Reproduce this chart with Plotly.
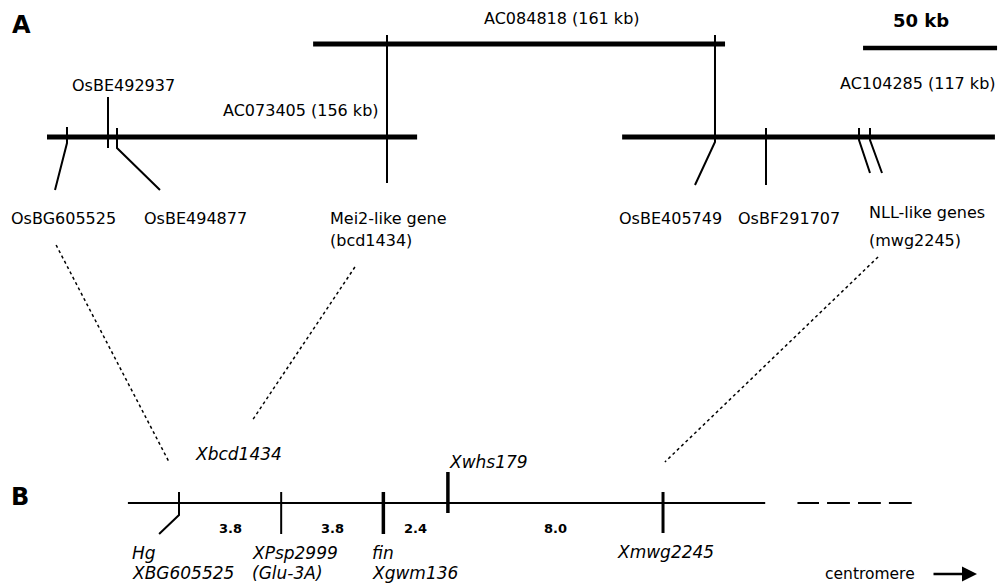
import plotly.graph_objects as go
import numpy as np

# ---------------- data ----------------
# Panel A: rice BAC/PAC contig (physical positions, kb, along the drawing)
clone_names = ["AC073405 (156 kb)", "AC084818 (161 kb)", "AC104285 (117 kb)"]
clone_start_kb = [0.0, 99.3, 214.6]
clone_end_kb = [138.1, 253.0, 353.7]
clone_row = [137, 44, 137]
scale_bar_kb = [304.5, 354.5]          # 50 kb reference bar
scale_bar_label = "50 kb"

# rice genes / ESTs on the contig: position (kb), tick top row, tick bottom row,
# leader end position (kb), leader end row
gene_names = ["OsBG605525", "OsBE492937", "OsBE494877", "Mei2-like gene",
              "OsBE405749", "OsBF291707", "NLL-like genes", "NLL-like genes"]
gene_kb = [7.46, 22.76, 26.12, 126.87, 249.25, 268.28, 302.99, 307.09]
gene_top = [127, 97, 128, 35, 35, 128, 128, 128]
gene_tick_bottom = [143, 148, 148, 183, 142, 185, 140, 140]
gene_leader_kb = [2.99, 22.76, 42.16, 126.87, 241.79, 268.28, 307.09, 311.57]
gene_leader_row = [190, 148, 190, 183, 185, 185, 173, 173]

# Panel B: wheat genetic map (intervals in cM)
loci = ["Hg / XBG605525", "XPsp2999 (Glu-3A)", "fin / Xgwm136", "Xwhs179", "Xmwg2245"]
intervals_cM = [3.8, 3.8, 2.4, 8.0]
interval_labels = ["3.8", "3.8", "2.4", "8.0"]
locus_top = [492, 492, 492, 472, 492]
locus_bottom = [515, 534, 534, 513, 533]
locus_width = [2, 2, 3.5, 3.5, 3]
map_extent_cM = [-1.9, 21.8]
dash_segments_cM = [[23.0, 23.8], [24.1, 24.95], [25.25, 26.1], [26.4, 27.25]]
hg_leader_cM = -0.74

# rice -> wheat correspondences (dotted connectors)
conn_from_kb = [3.4, 114.9, 310.1]
conn_from_row = [245, 267, 257]
conn_to_cM = [-0.37, 2.71, 18.07]
conn_to_row = [462, 421, 462]

# ---------------- frame / style ----------------
W, H = 999, 585
A_ORIGIN_PX, PX_PER_KB = 47.0, 2.68
B_ORIGIN_PX, PX_PER_CM = 179.0, 26.89
FONT = "DejaVu Sans"


def cm_to_kb(c):
    return (B_ORIGIN_PX + c * PX_PER_CM - A_ORIGIN_PX) / PX_PER_KB


fig = go.Figure()


def line(xs, ys, width, axis="x", dash=None):
    fig.add_trace(go.Scatter(
        x=xs, y=ys, mode="lines", xaxis=axis, yaxis="y",
        line=dict(color="black", width=width, dash=dash),
        hoverinfo="skip", showlegend=False))


# clones
for s, e, r in zip(clone_start_kb, clone_end_kb, clone_row):
    line([s, e], [r, r], 5)
# scale bar
line(scale_bar_kb, [48, 48], 4.5)
# genes
for kb, t, b, lk, lr in zip(gene_kb, gene_top, gene_tick_bottom, gene_leader_kb, gene_leader_row):
    line([kb, kb, lk], [t, b, lr], 2)

# genetic map
line(map_extent_cM, [503, 503], 2, axis="x2")
for seg in dash_segments_cM:
    line(seg, [503, 503], 2, axis="x2")
pos_cM = np.concatenate([[0.0], np.cumsum(intervals_cM)])
for i, (p, t, b, w) in enumerate(zip(pos_cM, locus_top, locus_bottom, locus_width)):
    if i == 0:
        line([p, p, hg_leader_cM], [t, b, 534], w, axis="x2")
    else:
        line([p, p], [t, b], w, axis="x2")

# connectors
for fk, fr, tc, tr in zip(conn_from_kb, conn_from_row, conn_to_cM, conn_to_row):
    line([fk, cm_to_kb(tc)], [fr, tr], 1.5, dash="dot")

ann = []


def text(t, x, y, xref="x", xanchor="left", xshift=0, size=16, bold=False, italic=False):
    if bold:
        t = "<b>" + t + "</b>"
    if italic:
        t = "<i>" + t + "</i>"
    ann.append(dict(text=t, x=x, y=y, xref=xref, yref="y", xanchor=xanchor,
                    yanchor="middle", xshift=xshift, showarrow=False,
                    font=dict(family=FONT, size=size, color="black")))


# panel letters
text("A", 10, 25, xref="paper", size=24, bold=True)
text("B", 9, 497, xref="paper", size=24, bold=True)

# clone labels
text(clone_names[1], clone_start_kb[1], 18, xshift=169)
text(clone_names[0], gene_kb[3], 110, xanchor="right", xshift=-6)
text(clone_names[2], clone_end_kb[2], 83, xanchor="right", xshift=3)
text(scale_bar_label, sum(scale_bar_kb) / 2, 20, xanchor="center", xshift=-9, size=18, bold=True)

# gene labels
text(gene_names[0], gene_leader_kb[0], 218, xanchor="center", xshift=8)
text(gene_names[1], gene_kb[1], 85, xanchor="center", xshift=15)
text(gene_names[2], gene_leader_kb[2], 218, xanchor="center", xshift=36)
text(gene_names[3], gene_kb[3], 218, xshift=-59)
text("(bcd1434)", gene_kb[3], 240, xshift=-59)
text(gene_names[4], gene_leader_kb[4], 218, xanchor="center", xshift=-25)
text(gene_names[5], gene_kb[5], 218, xanchor="center", xshift=23)
text(gene_names[6], gene_leader_kb[6], 212, xshift=-3)
text("(mwg2245)", gene_leader_kb[6], 240, xshift=-3)

# genetic map labels
text("Xbcd1434", pos_cM[0], 454, xref="x2", xshift=14, size=17, italic=True)
text("Hg", pos_cM[0], 553, xref="x2", xshift=-49, size=17, italic=True)
text("XBG605525", pos_cM[0], 573, xref="x2", xshift=-49, size=17, italic=True)
text("XPsp2999", pos_cM[1], 553, xref="x2", xshift=-31, size=17, italic=True)
text("(Glu-3A)", pos_cM[1], 573, xref="x2", xshift=-31, size=17, italic=True)
text("fin", pos_cM[2], 553, xref="x2", xshift=-13, size=17, italic=True)
text("Xgwm136", pos_cM[2], 573, xref="x2", xshift=-13, size=17, italic=True)
text("Xwhs179", pos_cM[3], 462, xref="x2", xshift=-1, size=17, italic=True)
text("Xmwg2245", pos_cM[4], 552, xref="x2", xshift=-48, size=17, italic=True)
mids = (pos_cM[:-1] + pos_cM[1:]) / 2
for m, lab in zip(mids, interval_labels):
    text(lab, m, 528, xref="x2", xanchor="center", size=13, bold=True)

# centromere arrow
text("centromere", 823, 574, xref="paper", size=15.5)
ann.append(dict(text="", x=977 / W, y=574, xref="paper", yref="y", ax=-45, ay=0,
                showarrow=True, arrowhead=2, arrowsize=1.2, arrowwidth=2.5,
                arrowcolor="black"))

# convert paper-px x for paper annotations
for a in ann:
    if a["xref"] == "paper" and a["x"] > 1:
        a["x"] = a["x"] / W

fig.update_layout(
    width=W, height=H, autosize=False,
    margin=dict(l=0, r=0, t=0, b=0),
    paper_bgcolor="white", plot_bgcolor="white",
    xaxis=dict(range=[(0 - A_ORIGIN_PX) / PX_PER_KB, (W - A_ORIGIN_PX) / PX_PER_KB],
               visible=False, fixedrange=True),
    xaxis2=dict(range=[(0 - B_ORIGIN_PX) / PX_PER_CM, (W - B_ORIGIN_PX) / PX_PER_CM],
                visible=False, fixedrange=True, overlaying="x", anchor="y"),
    yaxis=dict(range=[H, 0], visible=False, fixedrange=True),
    annotations=ann,
    showlegend=False,
)

fig.write_html("out.html", config={"displayModeBar": False},
               post_script="document.body.style.margin='0';document.body.style.overflow='hidden';")
